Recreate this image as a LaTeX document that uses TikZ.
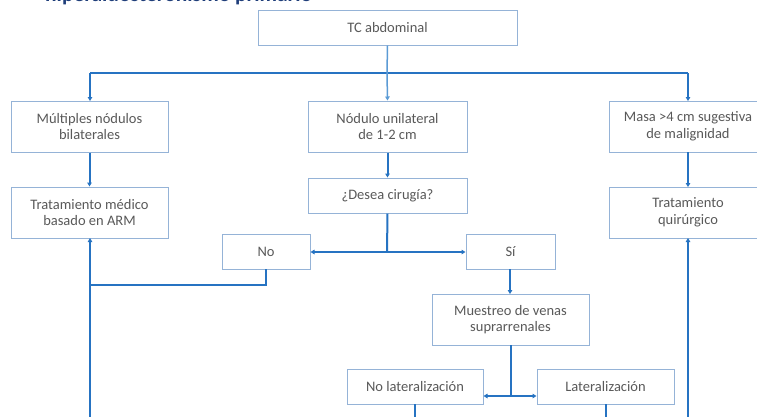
\documentclass[tikz,border=0pt]{standalone}
\usepackage{fontspec}
\setmainfont{Carlito}
\usetikzlibrary{arrows.meta,calc}
\definecolor{boxline}{HTML}{95B3D7}
\definecolor{conn}{HTML}{2673C2}
\definecolor{connlight}{HTML}{5B9BD5}
\definecolor{txt}{HTML}{595959}
\definecolor{navy}{HTML}{1F3E7A}
\tikzset{
  fbox/.style={draw=boxline, line width=1pt, fill=white, text=txt, align=center,
    font=\fontsize{14.5}{16.7}\selectfont, inner sep=0pt},
  conline/.style={draw=conn, line width=2pt},
  conarrow/.style={draw=conn, line width=2pt, -{Triangle[length=4pt,width=4.5pt]}},
  conlight/.style={draw=connlight, line width=1.5pt},
}
\newcommand{\boxat}[6]{% name, x1, y1, x2, y2, text
  \node[fbox, minimum width={(#4-#2)*1pt}, minimum height={(#5-#3)*1pt}] (#1) at ({(#2+#4)/2},{(#3+#5)/2}) {#6};}
\begin{document}
\begin{tikzpicture}[x=1pt,y=-1pt]
\useasboundingbox (0,0) rectangle (757,416);
\clip (0,0) rectangle (757,416);
\fill[white] (0,0) rectangle (757,416);
% title (cut off at top)
\node[anchor=base west, inner sep=0pt, text=navy, font=\fontsize{21.5}{24}\bfseries\selectfont] (title) at (45,1.5) {hiperaldosteronismo primario};
% boxes
\boxat{tc}{258}{10}{517}{45}{TC abdominal}
\boxat{mult}{11}{101}{168}{152}{Múltiples nódulos\\bilaterales}
\boxat{trat}{11}{187}{168}{238}{Tratamiento médico\\basado en ARM}
\boxat{nod}{308}{101}{467}{152}{Nódulo unilateral\\de 1-2 cm}
\boxat{desea}{308}{178}{467}{213}{¿Desea cirugía?}
\boxat{no}{222}{234}{310}{269}{No}
\boxat{si}{466}{234}{555}{269}{Sí}
\boxat{muest}{432}{294}{589}{345}{Muestreo de venas\\suprarrenales}
\boxat{nolat}{347}{369}{483}{404}{No lateralización}
\boxat{lat}{537}{369}{674}{404}{Lateralización}
\boxat{masa}{609}{101}{767}{152}{Masa >4 cm sugestiva\\de malignidad}
\boxat{quir}{609}{187}{767}{238}{Tratamiento\\quirúrgico}
% coordinates
\coordinate (top) at (387,73);
\coordinate (jA) at (387,252);
\coordinate (jB) at (511,396);
\coordinate (noc) at (266,285);
\coordinate (left) at (90,285);
\coordinate (lbot) at (90,425);
\coordinate (rbot) at (688,425);
\coordinate (nlbot) at (415,425);
\coordinate (lbot2) at (606,425);
% connectors
\draw[conline] (90,73) -- (688,73);
\draw[conlight] (tc.south) -- (top);
\draw[conlight, -{Triangle[length=4pt,width=4.5pt]}] (top) -- (nod.north);
\draw[conarrow] (90,73) -- (90,101);
\draw[conarrow] (688,73) -- (688,101);
\draw[conarrow] (mult.south) -- (trat.north);
\draw[conarrow] (nod.south) -- (desea.north);
\draw[conarrow] (688,152) -- (688,187);
\draw[conline] (desea.south) -- (jA);
\draw[conarrow] (jA) -- (no.east |- jA);
\draw[conarrow] (jA) -- (si.west |- jA);
\draw[conarrow] (510,269) -- (510,294);
\draw[conline] (511,345) -- (jB);
\draw[conarrow] (jB) -- (nolat.east |- jB);
\draw[conarrow] (jB) -- (lat.west |- jB);
\draw[conline] (266,269) -- (noc) -- (left);
\draw[conarrow] (lbot) -- (90,238);
\draw[conline] (415,404) -- (nlbot);
\draw[conline] (606,404) -- (lbot2);
\draw[conarrow] (rbot) -- (688,238);
\end{tikzpicture}
\end{document}
